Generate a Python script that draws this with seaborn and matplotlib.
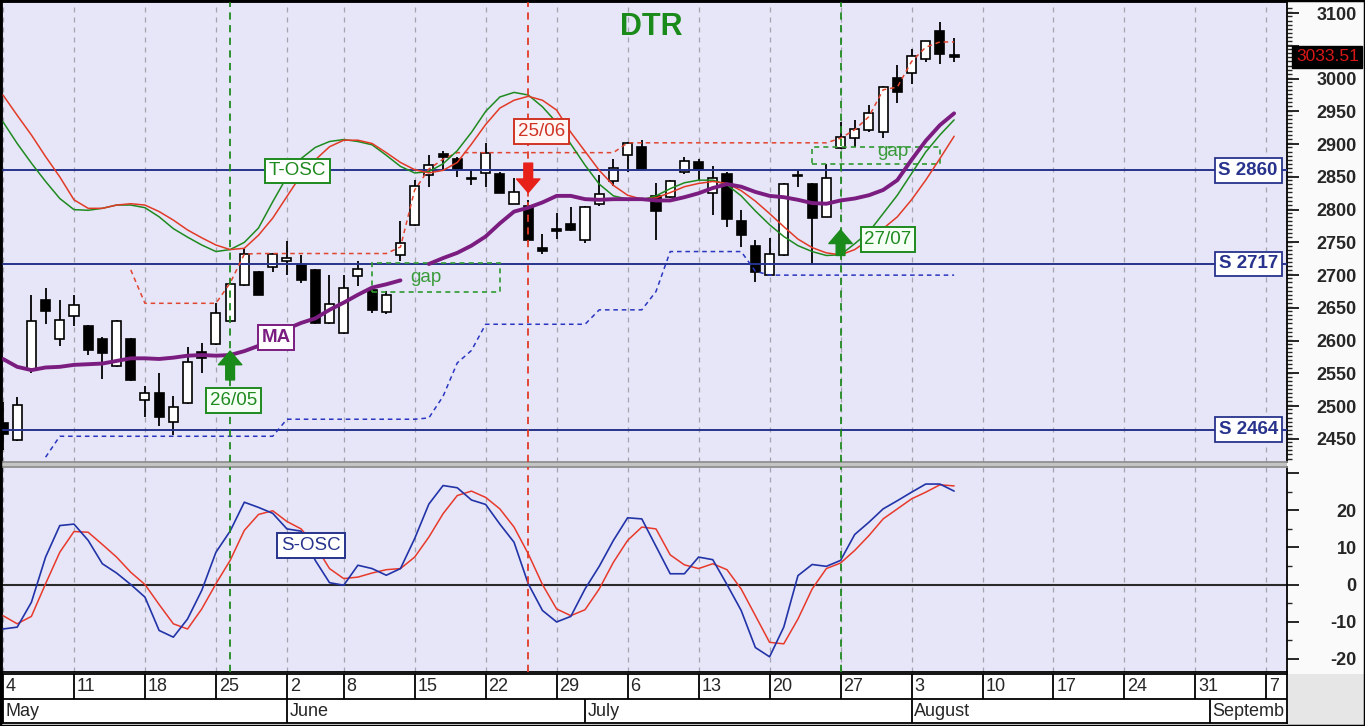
import numpy as np
import matplotlib
matplotlib.use("Agg")
import matplotlib.pyplot as plt
import seaborn as sns
from matplotlib.patches import Rectangle
from matplotlib.transforms import blended_transform_factory

nan = float("nan")

# ---------------- data (trading-day index 0 = 4 May) ----------------
opens = [2474, 2448, 2556, 2662, 2602, 2638, 2622, 2602, 2561, 2602,
         2510, 2520, 2476, 2505, 2583, 2595, 2630, 2685, 2705, 2712,
         2722, 2716, 2708, 2627, 2611, 2698, 2677, 2643, 2731, 2777,
         2853, 2885, 2877, 2849, 2856, 2855, 2809, 2806, 2742, 2770,
         2778, 2753, 2809, 2844, 2883, 2896, 2821, 2820, 2858, 2872,
         2826, 2855, 2782, 2745, 2700, 2730, 2853, 2839, 2789, 2894,
         2909, 2921, 2918, 3001, 3009, 3030, 3073, 3036]
highs = [2507, 2514, 2670, 2680, 2662, 2670, 2624, 2606, 2631, 2604,
         2530, 2550, 2515, 2591, 2596, 2657, 2690, 2742, 2707, 2734,
         2752, 2731, 2709, 2700, 2700, 2722, 2682, 2676, 2782, 2846,
         2883, 2889, 2881, 2861, 2902, 2857, 2848, 2815, 2763, 2795,
         2804, 2806, 2853, 2877, 2904, 2907, 2841, 2845, 2880, 2878,
         2867, 2857, 2799, 2754, 2756, 2841, 2861, 2841, 2870, 2934,
         2937, 2960, 2988, 3021, 3045, 3058, 3086, 3062]
lows = [2433, 2446, 2550, 2626, 2592, 2622, 2578, 2542, 2560, 2538,
        2483, 2469, 2456, 2504, 2550, 2594, 2628, 2684, 2669, 2705,
        2700, 2688, 2626, 2626, 2610, 2684, 2642, 2641, 2721, 2775,
        2835, 2861, 2850, 2838, 2835, 2825, 2808, 2750, 2732, 2755,
        2768, 2749, 2806, 2836, 2858, 2860, 2753, 2818, 2854, 2845,
        2792, 2773, 2743, 2690, 2699, 2729, 2835, 2717, 2788, 2892,
        2895, 2919, 2909, 2963, 2992, 3026, 3023, 3026]
closes = [2458, 2502, 2630, 2646, 2632, 2654, 2586, 2581, 2630, 2540,
          2520, 2483, 2499, 2568, 2573, 2642, 2687, 2732, 2670, 2732,
          2726, 2692, 2627, 2656, 2680, 2710, 2647, 2670, 2749, 2836,
          2868, 2880, 2862, 2847, 2886, 2826, 2827, 2753, 2737, 2768,
          2769, 2804, 2824, 2863, 2901, 2862, 2798, 2843, 2875, 2862,
          2849, 2785, 2761, 2705, 2732, 2839, 2852, 2787, 2848, 2911,
          2923, 2948, 2987, 2979, 3035, 3057, 3038, 3033.51]

ma_line = [2572, 2560, 2555, 2559, 2560, 2563, 2564, 2565, 2569, 2573,
           2573, 2572, 2574, 2577, 2578, 2577, 2578, 2584, 2592, 2606,
           2618, 2627, 2634, 2647, 2658, 2670, 2681, 2686, 2692, nan,
           2717, 2726, 2734, 2745, 2759, 2779, 2797, 2803, 2811, 2821,
           2821, 2816, 2815, 2816, 2816, 2816, 2814, 2814, 2819, 2825,
           2833, 2839, 2835, 2827, 2821, 2819, 2815, 2810, 2809, 2814,
           2817, 2822, 2830, 2845, 2876, 2905, 2929, 2947]

tosc_green = [2934, 2901, 2871, 2843, 2817, 2800, 2799, 2802, 2807, 2807,
              2803, 2789, 2771, 2758, 2746, 2736, 2739, 2750, 2772, 2812,
              2850, 2878, 2895, 2904, 2907, 2904, 2899, 2883, 2866, 2856,
              2858, 2870, 2890, 2918, 2950, 2972, 2979, 2975, 2957, 2933,
              2900, 2868, 2839, 2821, 2816, 2815, 2821, 2832, 2841, 2845,
              2845, 2838, 2821, 2798, 2777, 2759, 2745, 2736, 2730, 2731,
              2748, 2766, 2794, 2822, 2855, 2888, 2914, 2937]
tosc_red = [2975, 2944, 2914, 2881, 2850, 2815, 2802, 2802, 2807, 2809,
            2807, 2797, 2784, 2769, 2757, 2746, 2739, 2741, 2761, 2787,
            2820, 2853, 2876, 2896, 2906, 2906, 2901, 2887, 2872, 2861,
            2856, 2860, 2872, 2900, 2930, 2955, 2967, 2973, 2967, 2952,
            2918, 2889, 2860, 2837, 2822, 2816, 2818, 2826, 2835, 2840,
            2843, 2840, 2829, 2813, 2794, 2774, 2755, 2742, 2734, 2731,
            2739, 2754, 2771, 2789, 2815, 2845, 2878, 2912]

resist_start = 9
resist_line = [2708, 2657, 2657, 2657, 2657, 2657, 2657, 2688, 2732, 2733,
               2733, 2733, 2733, 2733, 2733, 2733, 2733, 2733, 2733, 2743,
               2830, 2862, 2877, 2887, 2887, 2887, 2887, 2887, 2887, 2887,
               2887, 2887, 2887, 2887, 2887, 2902, 2902, 2902, 2902, 2902,
               2902, 2902, 2902, 2902, 2902, 2902, 2902, 2902, 2902, 2902,
               2909, 2922, 2942, 2983, 2987, 3026, 3048, 3056, 3056]
support_start = 3
support_line = [2422, 2454, 2454, 2454, 2454, 2454, 2454, 2454, 2454, 2454,
                2454, 2454, 2454, 2454, 2454, 2454, 2454, 2480, 2480, 2480,
                2480, 2480, 2480, 2480, 2480, 2480, 2480, 2482, 2515, 2566,
                2585, 2625, 2625, 2625, 2625, 2625, 2625, 2625, 2625, 2647,
                2647, 2647, 2647, 2675, 2736, 2736, 2736, 2736, 2736, 2736,
                2706, 2700, 2700, 2700, 2700, 2700, 2700, 2700, 2700, 2700,
                2700, 2700, 2700, 2700, 2700]

sosc_blue = [-12.0, -11.5, -4.8, 7.4, 15.9, 16.3, 11.9, 5.6, 3.1, 0.0,
             -3.4, -12.4, -14.2, -9.3, -1.6, 8.7, 14.4, 22.2, 20.8, 19.2,
             15.0, 14.4, 6.5, 0.5, -0.2, 5.2, 4.3, 2.5, 4.3, 12.4,
             21.7, 26.7, 26.1, 22.8, 21.6, 16.3, 11.4, 0.2, -7.0, -10.1,
             -8.6, -1.2, 4.9, 11.9, 18.0, 17.7, 10.3, 2.9, 2.9, 7.4,
             6.7, 0.0, -7.0, -17.0, -19.5, -11.5, 2.4, 5.4, 4.9, 6.5,
             13.5, 16.8, 20.4, 22.6, 24.9, 27.1, 27.1, 25.2]
sosc_red = [-8.4, -10.6, -8.6, 0.2, 8.7, 14.3, 14.1, 10.8, 7.4, 3.3,
            0.0, -5.4, -10.6, -12.0, -6.6, 0.2, 6.5, 14.6, 18.9, 19.9,
            17.0, 15.0, 10.5, 4.3, 1.6, 2.0, 3.1, 4.0, 4.3, 7.4,
            12.8, 19.1, 24.0, 25.2, 23.5, 20.4, 15.5, 8.3, 0.0, -6.6,
            -8.4, -6.8, -1.2, 6.0, 11.9, 15.5, 15.0, 8.0, 5.3, 4.3,
            5.6, 4.0, -1.2, -8.4, -15.6, -16.0, -9.3, -1.2, 4.3, 5.8,
            9.2, 13.2, 17.7, 20.4, 23.1, 24.9, 26.9, 26.6]

week_ticks = [0, 5, 10, 15, 20, 24, 29, 34, 39, 44, 49, 54, 59, 64, 69, 74, 79, 84, 89]
week_labels = ["4", "11", "18", "25", "2", "8", "15", "22", "29", "6",
               "13", "20", "27", "3", "10", "17", "24", "31", "7"]
month_starts = [0, 20, 41, 64, 85]
month_labels = ["May", "June", "July", "August", "Septemb"]

price_ticks = [2450, 2500, 2550, 2600, 2650, 2700, 2750, 2800, 2850, 2900, 2950, 3000, 3050, 3100]
price_tick_labels = ["2450", "2500", "2550", "2600", "2650", "2700", "2750", "2800",
                     "2850", "2900", "2950", "3000", "", "3100"]
osc_ticks = [-20, -10, 0, 10, 20, 30]
osc_tick_labels = ["-20", "-10", "0", "10", "20", ""]

support_levels = [2860, 2717, 2464]
support_texts = ["S 2860", "S 2717", "S 2464"]
signal_days = [16, 37, 59]
signal_texts = ["26/05", "25/06", "27/07"]
gap_boxes = [(26, 35, 2675, 2718), (57, 66, 2870, 2896)]
last_price = 3033.51

# ---------------- styling ----------------
sns.set_style("white")
plt.rcParams["font.family"] = ["Liberation Sans", "DejaVu Sans"]

W, H = 1365, 726
fig = plt.figure(figsize=(W / 100, H / 100), dpi=100)
fig.patch.set_facecolor("#fafafa")


def box(x0, y0, x1, y1):
    return [x0 / W, 1 - y1 / H, (x1 - x0) / W, (y1 - y0) / H]


ax = fig.add_axes(box(2, 2, 1287, 462))
ax2 = fig.add_axes(box(2, 467, 1287, 672))
axd = fig.add_axes(box(2, 674, 1287, 723))

XL = (-0.07, 90.45)
BG = "#e6e6f8"
NAVY = "#27338c"
GREEN = "#1f8a1f"
RED = "#e23a26"
PURPLE = "#7b1d80"

for a in (ax, ax2):
    a.set_facecolor(BG)
    a.set_xlim(*XL)
    a.set_xticks([])
    for s in a.spines.values():
        s.set_color("black")
        s.set_linewidth(1.3)
    for t in week_ticks:
        a.axvline(t, color="#a4a4b0", lw=0.9, ls=(0, (4, 4)), zorder=1)
    for d, c in zip(signal_days, [GREEN, RED, GREEN]):
        a.axvline(d, color=c, lw=1.3, ls=(0, (4, 3)), zorder=6)
ax.spines["bottom"].set_color("#909090")
ax2.spines["top"].set_color("#909090")

ax.set_ylim(2414.7, 3117)
ax2.set_ylim(-23.6, 31.7)

x_all = np.arange(len(closes), dtype=float)


def sline(axis, xs, ys, **kw):
    sns.lineplot(x=np.asarray(xs, dtype=float), y=np.asarray(ys, dtype=float),
                 ax=axis, estimator=None, sort=False, legend=False, **kw)


# support lines
for lev, txt in zip(support_levels, support_texts):
    ax.axhline(lev, color=NAVY, lw=1.4, zorder=3)
    ax.text(89.8, lev, txt, color=NAVY, fontsize=13.5, fontweight="bold", ha="right",
            va="center", zorder=12,
            bbox=dict(boxstyle="square,pad=0.2", fc="white", ec=NAVY, lw=1.3))

# candles
o = np.array(opens, float)
c = np.array(closes, float)
hi = np.array(highs, float)
lo = np.array(lows, float)
ax.vlines(x_all, lo, hi, color="black", lw=1.3, zorder=2)
body_bottom = np.minimum(o, c)
body_h = np.maximum(np.abs(c - o), 1.5)
colors = ["white" if cc >= oo else "black" for oo, cc in zip(o, c)]
ax.bar(x_all, body_h, bottom=body_bottom, width=0.64, color=colors,
       edgecolor="black", linewidth=1.2, zorder=2.5)

# dotted trailing lines
xr = np.arange(resist_start, resist_start + len(resist_line))
sline(ax, xr, resist_line, color="#e2452f", linewidth=1.1, linestyle=(0, (3, 2.5)), zorder=4)
xs_ = np.arange(support_start, support_start + len(support_line))
sline(ax, xs_, support_line, color="#2a36c0", linewidth=1.1, linestyle=(0, (3, 2.5)), zorder=4)

# gap boxes
for (xa, xb, ya, yb), (gx, gy) in zip(gap_boxes, [(29.8, 2696), (62.7, 2889)]):
    ax.add_patch(Rectangle((xa, ya), xb - xa, yb - ya, fill=False, ec="#2e9a2e",
                           lw=1.2, ls=(0, (3, 2.5)), zorder=4))
    ax.text(gx, gy, "gap", color="#3a9a3a", fontsize=13.5, ha="center", va="center", zorder=8)

# T-OSC and MA
sline(ax, x_all, tosc_green, color=GREEN, linewidth=1.1, zorder=5)
sline(ax, x_all, tosc_red, color=RED, linewidth=1.1, zorder=5)
ma_arr = np.array(ma_line, float)
seg1 = ~np.isnan(ma_arr) & (x_all < 29)
seg2 = ~np.isnan(ma_arr) & (x_all > 29)
sline(ax, x_all[seg1], ma_arr[seg1], color=PURPLE, linewidth=2.8, zorder=7)
sline(ax, x_all[seg2], ma_arr[seg2], color=PURPLE, linewidth=2.8, zorder=7)

# labels
lbl = dict(fontsize=13.5, ha="center", va="center", zorder=12)
ax.text(20.75, 2859, "T-OSC", color=GREEN,
        bbox=dict(boxstyle="square,pad=0.2", fc="white", ec=GREEN, lw=1.4), **lbl)
ax.text(19.23, 2605, "MA", color=PURPLE, fontweight="bold",
        bbox=dict(boxstyle="square,pad=0.2", fc="white", ec=PURPLE, lw=1.4), **lbl)
ax.text(16.25, 2508.5, signal_texts[0], color=GREEN,
        bbox=dict(boxstyle="square,pad=0.2", fc="#f6fff6", ec=GREEN, lw=1.4), **lbl)
ax.text(37.95, 2919.5, signal_texts[1], color="#d03424",
        bbox=dict(boxstyle="square,pad=0.2", fc="#fff6f6", ec="#d03424", lw=1.4), **lbl)
ax.text(62.35, 2754.5, signal_texts[2], color=GREEN,
        bbox=dict(boxstyle="square,pad=0.2", fc="#f6fff6", ec=GREEN, lw=1.4), **lbl)
ax.text(45.7, 3079, "DTR", color="#1a8a1a", fontsize=22, fontweight="bold",
        ha="center", va="center", zorder=12)


def arrow(x, y0, y1, color):
    ax.annotate("", xy=(x, y1), xytext=(x, y0), zorder=9,
                arrowprops=dict(arrowstyle="simple,head_length=0.7,head_width=1.2,tail_width=0.45",
                                color=color, shrinkA=0, shrinkB=0, mutation_scale=14))


arrow(16, 2540, 2584, "#1a8a1a")
arrow(37, 2871, 2826, "#e8201a")
arrow(59, 2730, 2769, "#1a8a1a")

# price tag
trans = blended_transform_factory(ax.transAxes, ax.transData)
ax.text(1.0070, last_price, f"{last_price:.2f}", transform=trans, color="#d81818",
        fontsize=12.6, ha="left", va="center", clip_on=False, zorder=20,
        bbox=dict(boxstyle="square,pad=0.2", fc="black", ec="black"))

# y ticks (top)
ax.yaxis.tick_right()
ax.set_yticks(price_ticks)
ax.set_yticklabels(price_tick_labels, ha="right", fontweight="bold")
ax.set_yticks([2420 + 6.25 * k for k in range(111)], minor=True)
ax.tick_params(axis="y", which="major", direction="out", length=8.6, width=1.4,
               pad=41.5, labelsize=13, right=True, left=False)
ax.tick_params(axis="y", which="minor", direction="out", length=3.6, width=1.0,
               right=True, left=False)

# bottom panel
ax2.axhline(0, color="#2a2a2a", lw=1.5, zorder=2)
sline(ax2, x_all, sosc_blue, color="#2233a8", linewidth=1.2, zorder=5)
sline(ax2, x_all, sosc_red, color="#e8392a", linewidth=1.1, zorder=4)
ax2.text(21.7, 10.5, "S-OSC", color=NAVY, fontsize=13.5, ha="center", va="center", zorder=12,
         bbox=dict(boxstyle="square,pad=0.2", fc="white", ec=NAVY, lw=1.4))
ax2.yaxis.tick_right()
ax2.set_yticks(osc_ticks)
ax2.set_yticklabels(osc_tick_labels, ha="right", fontweight="bold")
ax2.set_yticks(list(range(-20, 31, 5)), minor=True)
ax2.tick_params(axis="y", which="major", direction="out", length=8.6, width=1.4,
                pad=41.5, labelsize=13, right=True, left=False)
ax2.tick_params(axis="y", which="minor", direction="out", length=3.6, width=1.0,
                right=True, left=False)

# date axis
axd.set_xlim(*XL)
axd.set_ylim(0, 2)
axd.set_facecolor("white")
axd.set_xticks([])
axd.set_yticks([])
for s in axd.spines.values():
    s.set_color("black")
    s.set_linewidth(1.3)
axd.axhline(1, color="black", lw=1.3)
axd.vlines(week_ticks, 1, 2, color="black", lw=1.3)
axd.vlines(month_starts, 0, 1, color="black", lw=1.3)
for t, lab in zip(week_ticks, week_labels):
    axd.text(t + 0.2, 1.47, lab, fontsize=13, ha="left", va="center", clip_on=True)
for m, lab in zip(month_starts, month_labels):
    axd.text(m + 0.18, 0.47, lab, fontsize=13, ha="left", va="center", clip_on=True)

# separators / frame
fig.add_artist(Rectangle((0, 1 - 467 / H), 1287 / W, 5 / H, transform=fig.transFigure,
                         fc="#c4c4c4", ec="none", zorder=0))
fig.add_artist(Rectangle((1287 / W, 0), (W - 1287) / W, 52 / H, transform=fig.transFigure,
                         fc="#e6e6e6", ec="none", zorder=0))
fig.add_artist(Rectangle((0, 0), 1, 1, transform=fig.transFigure, fill=False,
                         ec="black", lw=2.5, zorder=100))

fig.savefig("out.png", dpi=100, facecolor=fig.get_facecolor())
